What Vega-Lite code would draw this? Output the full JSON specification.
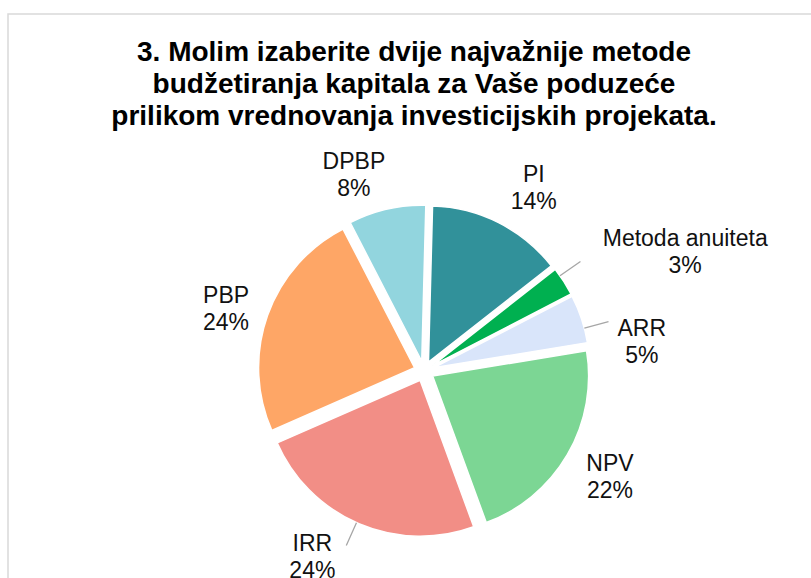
{
  "$schema": "https://vega.github.io/schema/vega-lite/v6.json",
  "autosize": "none",
  "width": 832,
  "height": 714,
  "padding": {"left": 8, "top": 14, "right": 0, "bottom": 0},
  "background": "white",
  "config": {"view": {"stroke": null}, "font": "Liberation Sans"},
  "title": {
    "text": ["3. Molim izaberite dvije najvažnije metode", "budžetiranja kapitala za Vaše poduzeće", "prilikom vrednovanja investicijskih projekata."],
    "font": "Liberation Sans",
    "fontSize": 28,
    "fontWeight": "bold",
    "color": "#000000",
    "lineHeight": 32,
    "anchor": "middle",
    "frame": "group",
    "dx": -10,
    "offset": -118
  },
  "data": {
    "values": [
      {"category": "PI", "value": 14, "order": 1},
      {"category": "Metoda anuiteta", "value": 3, "order": 2},
      {"category": "ARR", "value": 5, "order": 3},
      {"category": "NPV", "value": 22, "order": 4},
      {"category": "IRR", "value": 24, "order": 5},
      {"category": "PBP", "value": 24, "order": 6},
      {"category": "DPBP", "value": 8, "order": 7}
    ]
  },
  "layer": [
    {
      "data": {"values": [{}]},
      "mark": {"type": "rect", "fill": "transparent", "stroke": "#d9d9d9", "strokeWidth": 1.5},
      "encoding": {}
    },
    {
      "mark": {
        "type": "arc",
        "radius": 156,
        "stroke": "white",
        "strokeWidth": 1.5,
        "xOffset": {"expr": "10*sin(0.026 + PI*(datum.value_start + datum.value_end)/100)"},
        "yOffset": {"expr": "-10*cos(0.026 + PI*(datum.value_start + datum.value_end)/100)"}
      },
      "encoding": {
        "theta": {"field": "value", "type": "quantitative", "stack": true, "scale": {"domain": [0, 100], "range": [0.026, 6.3092]}},
        "order": {"field": "order", "type": "quantitative"},
        "color": {
          "field": "category",
          "type": "nominal",
          "scale": {
            "domain": ["PI", "Metoda anuiteta", "ARR", "NPV", "IRR", "PBP", "DPBP"],
            "range": ["#31919a", "#00b050", "#d9e5fa", "#7cd694", "#f28e86", "#fea666", "#92d5de"]
          },
          "legend": null
        }
      }
    },
    {
      "transform": [{"calculate": "datum.category + '\\n' + datum.value + '%'", "as": "label"}],
      "mark": {
        "type": "text",
        "font": "Liberation Sans",
        "fontSize": 23,
        "lineHeight": 27,
        "lineBreak": "\n",
        "color": "#111111",
        "align": "center",
        "baseline": "middle",
        "dy": -11,
        "radius": {"expr": "datum.category == 'Metoda anuiteta' ? 288 : datum.category == 'ARR' ? 220 : datum.category == 'PBP' ? 208 : datum.category == 'DPBP' ? 210 : datum.category == 'NPV' ? 213 : 215"},
        "thetaOffset": {"expr": "datum.category == 'PI' ? 0.07 : datum.category == 'Metoda anuiteta' ? 0.136 : datum.category == 'ARR' ? 0.178 : datum.category == 'NPV' ? -0.019 : datum.category == 'IRR' ? 0.143 : datum.category == 'PBP' ? -0.028 : -0.115"}
      },
      "encoding": {
        "theta": {"field": "value", "type": "quantitative", "stack": true, "scale": {"domain": [0, 100], "range": [0.026, 6.3092]}},
        "order": {"field": "order", "type": "quantitative"},
        "text": {"field": "label", "type": "nominal"}
      }
    },
    {
      "transform": [
        {"stack": "value", "groupby": [], "sort": [{"field": "order", "order": "ascending"}], "as": ["ls", "le"]},
        {"filter": "indexof(['Metoda anuiteta', 'ARR', 'IRR'], datum.category) >= 0"},
        {"calculate": "(datum.ls + datum.le) / 2", "as": "lm"}
      ],
      "mark": {
        "type": "arc",
        "radius": 191,
        "radius2": 166,
        "fillOpacity": 0,
        "stroke": "#a6a6a6",
        "strokeWidth": 1.3,
        "thetaOffset": {"expr": "datum.category == 'Metoda anuiteta' ? -0.04 : datum.category == 'ARR' ? 0.058 : 0.016"},
        "theta2Offset": {"expr": "datum.category == 'Metoda anuiteta' ? -0.04 : datum.category == 'ARR' ? 0.058 : 0.016"}
      },
      "encoding": {
        "theta": {"field": "lm", "type": "quantitative", "scale": {"domain": [0, 100], "range": [0.026, 6.3092]}},
        "theta2": {"field": "lm"}
      }
    }
  ]
}
